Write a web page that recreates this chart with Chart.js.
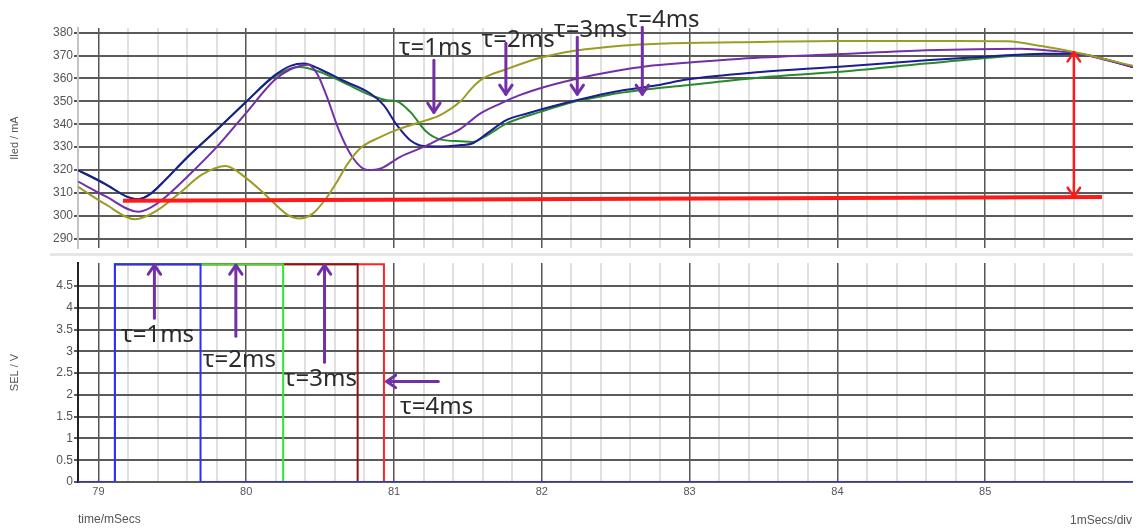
<!DOCTYPE html>
<html>
<head>
<meta charset="utf-8">
<script src="https://cdn.jsdelivr.net/npm/chart.js@4.4.0/dist/chart.umd.min.js"></script>
<style>
  body { margin: 0; background: #fff; }
  #wrap { position: relative; width: 1138px; height: 531px; }
  #top, #bottom { position: absolute; left: 0; }
  #top { top: 0; }
  #bottom { top: 253px; }
  #sep { position: absolute; left: 50px; top: 253px; width: 1083px; height: 3px; background: #e6e6e6; }
</style>
</head>
<body>
<div id="wrap">
  <canvas id="top" width="1138" height="253"></canvas>
  <div id="sep"></div>
  <canvas id="bottom" width="1138" height="278"></canvas>
</div>
<script>
// LED current traces (time in ms, current in mA)
const tBlue = [78.863, 79.05, 79.20, 79.27, 79.35, 79.45, 79.60, 79.80, 80.00, 80.19, 80.30, 80.39, 80.50, 80.65, 80.84, 80.93, 81.02, 81.11, 81.20, 81.31, 81.45, 81.53, 81.63, 81.76, 81.90, 82.10, 82.33, 82.55, 82.78, 82.98, 83.48, 83.99, 84.60, 85.05, 85.39, 85.60, 86.00];
const iBlue = [320.0, 313.8, 308.2, 307.3, 309.5, 315.5, 325.5, 337.5, 349.8, 361.2, 365.5, 366.5, 364.0, 359.2, 353.4, 348.3, 339.6, 333.0, 330.5, 330.3, 330.9, 331.6, 336.0, 341.8, 344.7, 348.3, 351.9, 354.8, 357.0, 359.5, 362.8, 365.0, 367.9, 369.7, 370.8, 370.8, 365.0];

const tGreen = [78.863, 79.05, 79.20, 79.27, 79.35, 79.45, 79.60, 79.80, 80.00, 80.19, 80.36, 80.50, 80.65, 80.84, 80.95, 81.02, 81.11, 81.22, 81.31, 81.45, 81.53, 81.63, 81.76, 81.99, 82.21, 82.44, 82.66, 82.98, 83.48, 83.99, 84.60, 85.05, 85.39, 85.60, 86.00];
const iGreen = [320.0, 313.8, 308.2, 307.3, 309.5, 315.5, 325.5, 337.5, 349.8, 360.8, 365.0, 362.8, 358.5, 352.7, 350.5, 350.0, 345.4, 336.7, 333.4, 332.6, 332.3, 335.2, 340.3, 345.4, 349.7, 352.7, 354.8, 357.0, 360.4, 362.8, 366.5, 369.1, 370.5, 370.8, 365.0];

const tPurple = [78.863, 79.05, 79.27, 79.35, 79.45, 79.60, 79.80, 80.00, 80.19, 80.30, 80.42, 80.48, 80.54, 80.63, 80.72, 80.82, 80.91, 81.04, 81.20, 81.31, 81.45, 81.58, 81.72, 81.85, 82.03, 82.26, 82.48, 82.71, 82.98, 83.48, 83.99, 84.60, 85.24, 85.50, 85.60, 86.00];
const iPurple = [315.0, 308.5, 301.8, 303.5, 308.0, 317.0, 330.0, 345.0, 359.2, 364.0, 366.0, 362.0, 353.0, 337.0, 325.5, 320.0, 320.7, 325.7, 330.1, 333.6, 338.0, 344.5, 349.0, 352.7, 356.5, 360.2, 363.0, 365.3, 366.8, 369.1, 370.5, 372.3, 373.0, 371.8, 371.2, 365.0];

const tOlive = [78.863, 79.05, 79.25, 79.40, 79.55, 79.70, 79.86, 80.00, 80.11, 80.19, 80.28, 80.36, 80.45, 80.54, 80.62, 80.68, 80.77, 80.91, 81.04, 81.22, 81.31, 81.45, 81.53, 81.60, 81.76, 81.99, 82.21, 82.44, 82.66, 82.98, 83.48, 83.99, 84.83, 85.15, 85.39, 85.60, 86.00];
const iOlive = [312.7, 305.0, 298.5, 302.5, 310.0, 318.0, 321.8, 316.5, 310.4, 305.5, 300.5, 298.9, 301.0, 307.6, 315.5, 322.1, 329.4, 334.5, 338.1, 341.8, 343.9, 350.0, 356.0, 359.9, 364.0, 369.0, 372.0, 373.7, 374.8, 375.5, 375.9, 376.3, 376.3, 376.2, 374.0, 371.5, 365.5];

// hand-drawn reference level
const tLevel = [79.166, 85.79];
const iLevel = [306.6, 308.3];

// SEL pulses: common rising edge, one falling edge per tau
const selRise = 79.112;
const selFall = [79.691, 80.250, 80.754, 80.932];
const selHigh = 5.0;
const selColors = ['#2e2eff', '#2ee82e', '#8e1414', '#ff2424'];

// axis ticks
const ledTicks = [290, 300, 310, 320, 330, 340, 350, 360, 370, 380];
const selTicks = [0, 0.5, 1, 1.5, 2, 2.5, 3, 3.5, 4, 4.5];
const timeTicks = [];
for (let i = 0; i <= 34; i++) timeTicks.push(Math.round((79 + i * 0.2) * 10) / 10);
const tMin = 78.862, tMax = 86.0;

// arrows and captions
const purple = '#7330a6';
const topArrows = [
  { t0: 81.27, v0: 367.9, t1: 81.27, v1: 345.2 },
  { t0: 81.757, v0: 375.3, t1: 81.757, v1: 353.1 },
  { t0: 82.24, v0: 378.0, t1: 82.24, v1: 353.1 },
  { t0: 82.68, v0: 382.3, t1: 82.68, v1: 353.1 },
  { t0: 85.60, v0: 308.3, t1: 85.60, v1: 371.4, color: '#ff1a1a', width: 2.5, both: true }
];
const topLabels = [
  { text: 'τ=1ms', t: 81.28, v: 370.1 },
  { text: 'τ=2ms', t: 81.84, v: 373.7 },
  { text: 'τ=3ms', t: 82.33, v: 378.1 },
  { text: 'τ=4ms', t: 82.82, v: 382.4 }
];
const selArrows = [
  { t0: 79.379, v0: 3.76, t1: 79.379, v1: 4.98 },
  { t0: 79.93, v0: 3.35, t1: 79.93, v1: 4.98 },
  { t0: 80.53, v0: 2.75, t1: 80.53, v1: 4.98 },
  { t0: 81.30, v0: 2.31, t1: 80.95, v1: 2.31 }
];
const selLabels = [
  { text: 'τ=1ms', t: 79.40, v: 3.22 },
  { text: 'τ=2ms', t: 79.954, v: 2.645 },
  { text: 'τ=3ms', t: 80.502, v: 2.20 },
  { text: 'τ=4ms', t: 81.288, v: 1.573 }
];

Chart.defaults.font.family = "'Liberation Sans', Arial, sans-serif";
Chart.defaults.font.size = 11;
Chart.defaults.color = '#555';

const whole = v => Math.abs(v - Math.round(v)) < 1e-6;

function curve(ts, vs, color, width) {
  return {
    data: ts.map((t, k) => ({ x: t, y: vs[k] })),
    borderColor: color,
    borderWidth: width,
    pointRadius: 0,
    cubicInterpolationMode: 'monotone',
    fill: false
  };
}

function pulse(fall, color) {
  const pts = [[tMin, 0], [selRise, 0], [selRise, selHigh], [fall, selHigh], [fall, 0], [tMax, 0]];
  return {
    data: pts.map(p => ({ x: p[0], y: p[1] })),
    borderColor: color,
    borderWidth: 2,
    pointRadius: 0,
    tension: 0,
    fill: false
  };
}

function head(ctx, x0, y0, x1, y1) {
  const a = Math.atan2(y1 - y0, x1 - x0), len = 11, spread = 0.6;
  ctx.beginPath();
  ctx.moveTo(x1 - len * Math.cos(a - spread), y1 - len * Math.sin(a - spread));
  ctx.lineTo(x1, y1);
  ctx.lineTo(x1 - len * Math.cos(a + spread), y1 - len * Math.sin(a + spread));
  ctx.stroke();
}

function notes(arrows, labels) {
  return {
    id: 'notes',
    afterDatasetsDraw(chart) {
      const { ctx, scales: { x, y } } = chart;
      ctx.save();
      ctx.lineCap = 'round';
      ctx.lineJoin = 'round';
      arrows.forEach(a => {
        const x0 = x.getPixelForValue(a.t0), y0 = y.getPixelForValue(a.v0);
        const x1 = x.getPixelForValue(a.t1), y1 = y.getPixelForValue(a.v1);
        ctx.strokeStyle = a.color || purple;
        ctx.lineWidth = a.width || 3;
        ctx.beginPath();
        ctx.moveTo(x0, y0);
        ctx.lineTo(x1, y1);
        ctx.stroke();
        head(ctx, x0, y0, x1, y1);
        if (a.both) head(ctx, x1, y1, x0, y0);
      });
      ctx.font = "24px 'Noto Sans'";
      ctx.fillStyle = '#2b2b2b';
      ctx.textAlign = 'center';
      ctx.textBaseline = 'alphabetic';
      labels.forEach(l => ctx.fillText(l.text, x.getPixelForValue(l.t), y.getPixelForValue(l.v)));
      ctx.restore();
    }
  };
}

const xGrid = {
  color: c => (c.tick && whole(c.tick.value)) ? '#555' : '#e0e0e0',
  lineWidth: c => (c.tick && whole(c.tick.value)) ? 1.5 : 2,
  drawTicks: false
};

const fixY = s => { s.width = 78; s.paddingTop = 0; s.paddingBottom = 0; };

// upper panel: LED current
new Chart(document.getElementById('top'), {
  type: 'line',
  data: {
    datasets: [
      curve(tLevel, iLevel, '#ff1a1a', 4),
      curve(tOlive, iOlive, '#9c9c22', 2),
      curve(tPurple, iPurple, purple, 2),
      curve(tBlue, iBlue, '#1c1c94', 2),
      curve(tGreen, iGreen, '#2a8a2a', 2)
    ]
  },
  options: {
    responsive: false,
    animation: false,
    layout: { padding: { top: 28, right: 5, bottom: 5, left: 0 } },
    plugins: { legend: { display: false }, tooltip: { enabled: false } },
    scales: {
      x: {
        type: 'linear', min: tMin, max: tMax,
        afterBuildTicks: s => { s.ticks = timeTicks.map(v => ({ value: v })); },
        ticks: { display: false },
        grid: xGrid,
        border: { display: false },
        afterFit: s => { s.height = 0; s.paddingLeft = 0; s.paddingRight = 0; }
      },
      y: {
        min: 286, max: 382,
        afterBuildTicks: s => { s.ticks = ledTicks.map(v => ({ value: v })); },
        ticks: { padding: 1, font: { size: 12 } },
        grid: { color: '#5a5a5a', lineWidth: 2, tickLength: 4 },
        border: { color: '#c4c4c4', width: 2 },
        title: { display: true, text: 'Iled / mA', padding: { top: 8, bottom: 0 } },
        afterFit: fixY
      }
    }
  },
  plugins: [notes(topArrows, topLabels)]
});

// lower panel: SEL voltage
const footer = {
  id: 'footer',
  afterDraw(chart) {
    const { ctx, chartArea } = chart;
    ctx.save();
    ctx.font = "12px 'Liberation Sans', Arial, sans-serif";
    ctx.fillStyle = '#555';
    ctx.textAlign = 'right';
    ctx.textBaseline = 'middle';
    ctx.fillText('1mSecs/div', chartArea.right - 1, 268);
    ctx.restore();
  }
};

new Chart(document.getElementById('bottom'), {
  type: 'line',
  data: {
    datasets: selFall.map((f, k) => pulse(f, selColors[k]))
  },
  options: {
    responsive: false,
    animation: false,
    layout: { padding: { top: 10, right: 5, bottom: 0, left: 0 } },
    plugins: { legend: { display: false }, tooltip: { enabled: false } },
    scales: {
      x: {
        type: 'linear', min: tMin, max: tMax,
        afterBuildTicks: s => { s.ticks = timeTicks.map(v => ({ value: v })); },
        ticks: {
          padding: 3, autoSkip: false, maxRotation: 0,
          callback: v => whole(v) ? String(Math.round(v)) : ''
        },
        grid: xGrid,
        border: { display: false },
        title: { display: true, text: 'time/mSecs', align: 'start', font: { size: 12 }, padding: { top: 0, bottom: 4 } },
        afterFit: s => { s.height = 49; s.paddingLeft = 0; s.paddingRight = 0; }
      },
      y: {
        min: 0, max: 5.03,
        afterBuildTicks: s => { s.ticks = selTicks.map(v => ({ value: v })); },
        ticks: { padding: 1, font: { size: 12 }, callback: v => String(v) },
        grid: { color: '#5a5a5a', lineWidth: 2, tickLength: 4 },
        border: { color: '#222', width: 2 },
        title: { display: true, text: 'SEL / V', padding: { top: 8, bottom: 0 } },
        afterFit: fixY
      }
    }
  },
  plugins: [notes(selArrows, selLabels), footer]
});
</script>
</body>
</html>
